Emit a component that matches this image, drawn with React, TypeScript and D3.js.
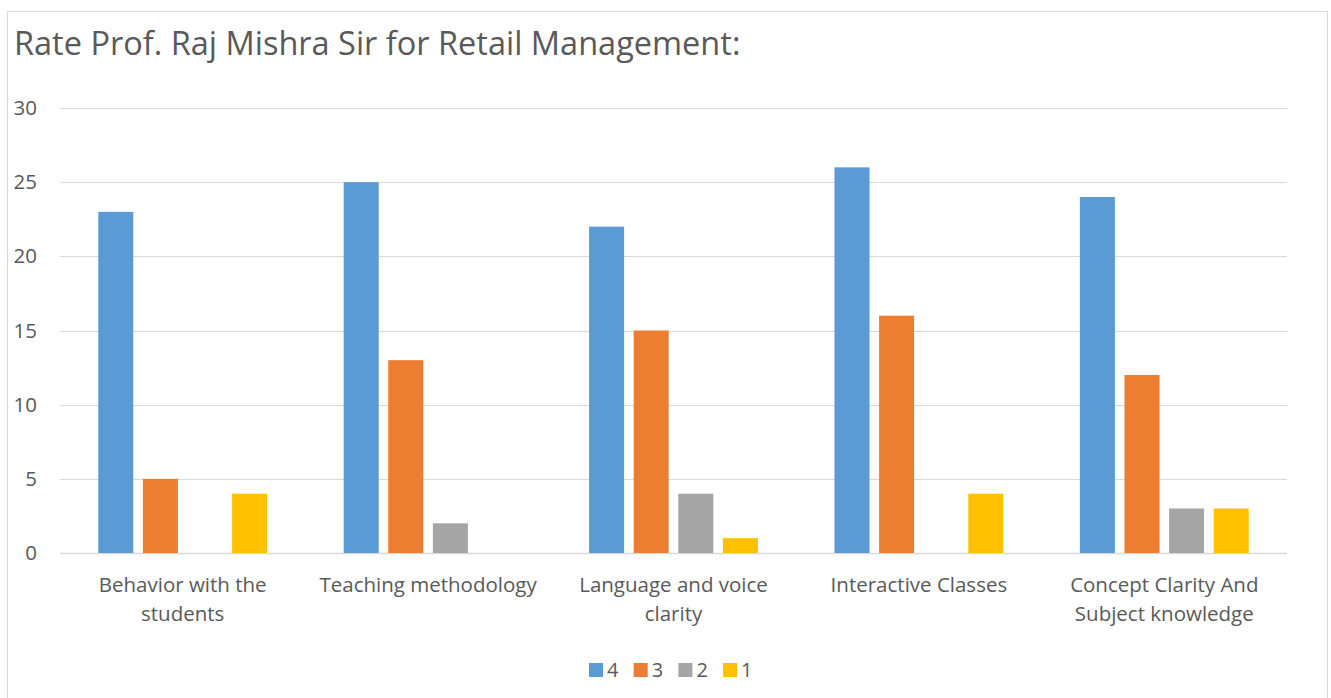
import { useEffect, useRef } from 'react'
import * as d3 from 'd3'

const chartTitle = 'Rate Prof. Raj Mishra Sir for Retail Management:'

const categories = [
  'Behavior with the students',
  'Teaching methodology',
  'Language and voice clarity',
  'Interactive Classes',
  'Concept Clarity And Subject knowledge',
]

// wrapped category labels as they appear under the axis
const categoryLines = [
  ['Behavior with the', 'students'],
  ['Teaching methodology'],
  ['Language and voice', 'clarity'],
  ['Interactive Classes'],
  ['Concept Clarity And', 'Subject knowledge'],
]

const seriesNames = ['4', '3', '2', '1']
const seriesColors = ['#5B9BD5', '#ED7D31', '#A5A5A5', '#FFC000']

const rating4 = [23, 25, 22, 26, 24]
const rating3 = [5, 13, 15, 16, 12]
const rating2 = [0, 2, 4, 0, 3]
const rating1 = [4, 0, 1, 4, 3]

const yTicks = [0, 5, 10, 15, 20, 25, 30]

const FONT = '"Open Sans", "Noto Sans", sans-serif'

export default function App() {
  const svgRef = useRef<SVGSVGElement>(null)

  useEffect(() => {
    if (!svgRef.current) return
    const svg = d3.select(svgRef.current)
    svg.selectAll('*').remove()

    const height = 698
    const plot = { left: 60, right: 1287, top: 108, bottom: 553 }

    const values = [rating4, rating3, rating2, rating1]

    // chart frame
    svg.append('rect')
      .attr('x', 7.5)
      .attr('y', 11.5)
      .attr('width', 1320)
      .attr('height', height + 20)
      .attr('fill', '#fff')
      .attr('stroke', '#d9d9d9')
      .attr('stroke-width', 1)

    svg.append('text')
      .attr('x', 14)
      .attr('y', 55)
      .attr('fill', '#595959')
      .attr('font-family', FONT)
      .attr('font-size', '32.5px')
      .text(chartTitle)

    const xScale = d3.scaleBand()
      .domain(categories)
      .range([plot.left, plot.right])

    const bw = xScale.bandwidth()
    const groupPad = bw * 0.156
    const xInner = d3.scaleBand()
      .domain(seriesNames)
      .range([groupPad, bw - groupPad])
      .paddingInner(0.215)

    const yScale = d3.scaleLinear()
      .domain([0, 30])
      .range([plot.bottom, plot.top])

    // gridlines
    svg.append('g')
      .selectAll('line')
      .data(yTicks)
      .join('line')
      .attr('x1', plot.left)
      .attr('x2', plot.right)
      .attr('y1', d => Math.round(yScale(d)) + 0.5)
      .attr('y2', d => Math.round(yScale(d)) + 0.5)
      .attr('stroke', '#d9d9d9')
      .attr('stroke-width', d => (d === 0 ? 1.5 : 1))

    svg.append('g')
      .selectAll('text')
      .data(yTicks)
      .join('text')
      .attr('x', 37)
      .attr('y', d => yScale(d) + 7)
      .attr('text-anchor', 'end')
      .attr('fill', '#595959')
      .attr('font-family', FONT)
      .attr('font-size', '20.5px')
      .text(d => d)

    // bars
    seriesNames.forEach((s, si) => {
      svg.append('g')
        .selectAll('rect')
        .data(categories)
        .join('rect')
        .attr('x', c => xScale(c)! + xInner(s)!)
        .attr('y', (c, i) => yScale(values[si][i]))
        .attr('width', xInner.bandwidth())
        .attr('height', (c, i) => yScale(0) - yScale(values[si][i]))
        .attr('fill', seriesColors[si])
    })

    // category labels
    const labels = svg.append('g')
      .selectAll('text')
      .data(categories)
      .join('text')
      .attr('text-anchor', 'middle')
      .attr('fill', '#595959')
      .attr('font-family', FONT)
      .attr('font-size', '20.5px')
      .attr('transform', c => `translate(${xScale(c)! + bw / 2},592)`)

    labels.selectAll('tspan')
      .data((c, i) => categoryLines[i])
      .join('tspan')
      .attr('x', 0)
      .attr('y', (d, i) => i * 28.5)
      .text(d => d)

    // legend
    const legend = svg.append('g')
      .attr('transform', 'translate(589,663)')
    const legendStep = 44.7
    seriesNames.forEach((s, i) => {
      const item = legend.append('g').attr('transform', `translate(${i * legendStep},0)`)
      item.append('rect')
        .attr('width', 14)
        .attr('height', 14)
        .attr('fill', seriesColors[i])
      item.append('text')
        .attr('x', 18)
        .attr('y', 14)
        .attr('fill', '#595959')
        .attr('font-family', FONT)
        .attr('font-size', '20px')
        .text(s)
    })
  }, [])

  return (
    <svg
      ref={svgRef}
      width={1331}
      height={698}
      style={{ position: 'absolute', left: 0, top: 0, background: '#fff' }}
    />
  )
}
